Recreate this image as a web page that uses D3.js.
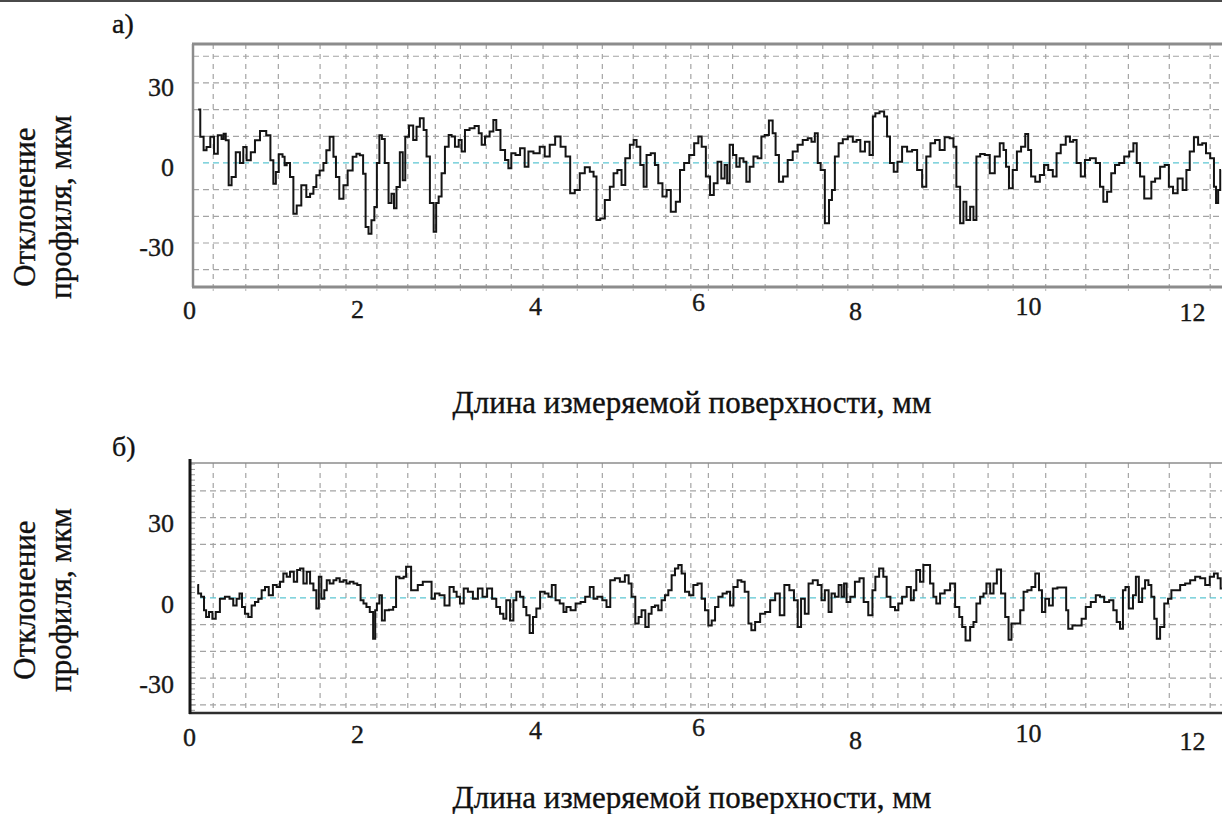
<!DOCTYPE html>
<html>
<head>
<meta charset="utf-8">
<script src="https://cdn.jsdelivr.net/npm/d3@7"></script>
<style>
  html, body { margin: 0; padding: 0; background: #fff; }
  svg { display: block; }
  svg text { font-family: "Liberation Serif", "Times New Roman", serif; stroke: #111; stroke-width: 0.35px; }
</style>
</head>
<body>
<svg id="chart" width="1222" height="814"></svg>
<script>
// axis ticks
const xTicks = [0, 2, 4, 6, 8, 10, 12];
const yTicks = [30, 0, -30];
const gridY = [-40, -30, -20, -10, 10, 20, 30, 40];
// vertical grid lines of the profilometer screen (mm), irregular as in the picture
const gridX = [0.29, 0.68, 1.07, 1.57, 1.88, 2.25, 2.62, 2.95, 3.25, 3.56, 3.86, 4.24, 4.65, 4.95,
  5.32, 5.71, 6.01, 6.22, 6.51, 6.90, 7.28, 7.59, 7.89, 8.19, 8.49, 8.79, 9.16, 9.57, 9.87,
  10.26, 10.74, 11.25, 11.74, 12.23];

// profile а) : distance, mm / deviation, µm
const distA = [0.11, 0.16, 0.19, 0.23, 0.28, 0.32, 0.37, 0.41, 0.42, 0.46, 0.49, 0.53, 0.59, 0.63, 0.67,
  0.71, 0.77, 0.81, 0.89, 0.96, 0.99, 1.03, 1.05, 1.10, 1.14, 1.15, 1.19, 1.23, 1.27, 1.31, 1.38, 1.43,
  1.47, 1.51, 1.54, 1.59, 1.63, 1.66, 1.71, 1.75, 1.77, 1.83, 1.87, 1.93, 1.99, 2.02, 2.07, 2.10, 2.13,
  2.17, 2.20, 2.24, 2.26, 2.30, 2.32, 2.37, 2.41, 2.44, 2.47, 2.50, 2.55, 2.57, 2.61, 2.66, 2.71, 2.74,
  2.79, 2.83, 2.86, 2.91, 2.95, 2.97, 3.01, 3.04, 3.09, 3.13, 3.16, 3.21, 3.25, 3.28, 3.33, 3.39, 3.45,
  3.49, 3.52, 3.57, 3.63, 3.66, 3.70, 3.76, 3.81, 3.84, 3.88, 3.94, 3.99, 4.05, 4.08, 4.17, 4.23, 4.29,
  4.35, 4.42, 4.48, 4.54, 4.59, 4.65, 4.71, 4.77, 4.83, 4.86, 4.90, 4.95, 5.01, 5.07, 5.10, 5.16, 5.20,
  5.25, 5.31, 5.34, 5.38, 5.43, 5.46, 5.50, 5.56, 5.60, 5.64, 5.70, 5.74, 5.80, 5.86, 5.90, 5.96, 6.02,
  6.08, 6.12, 6.16, 6.22, 6.26, 6.31, 6.35, 6.40, 6.43, 6.46, 6.49, 6.54, 6.57, 6.62, 6.66, 6.69, 6.74,
  6.78, 6.84, 6.87, 6.92, 6.97, 7.01, 7.04, 7.09, 7.14, 7.20, 7.26, 7.32, 7.38, 7.44, 7.47, 7.52, 7.54,
  7.59, 7.64, 7.69, 7.71, 7.76, 7.80, 7.86, 7.92, 7.98, 8.01, 8.07, 8.12, 8.18, 8.20, 8.24, 8.30, 8.35,
  8.37, 8.42, 8.46, 8.51, 8.57, 8.63, 8.69, 8.75, 8.81, 8.85, 8.91, 8.96, 9.02, 9.08, 9.14, 9.17, 9.21,
  9.26, 9.29, 9.33, 9.38, 9.41, 9.45, 9.50, 9.56, 9.62, 9.68, 9.74, 9.77, 9.80, 9.84, 9.89, 9.94, 9.99,
  10.04, 10.06, 10.11, 10.16, 10.22, 10.26, 10.32, 10.37, 10.41, 10.47, 10.53, 10.57, 10.61, 10.65,
  10.71, 10.75, 10.83, 10.89, 10.93, 10.97, 11.02, 11.07, 11.11, 11.17, 11.23, 11.29, 11.33, 11.37,
  11.41, 11.47, 11.51, 11.54, 11.60, 11.66, 11.71, 11.76, 11.81, 11.87, 11.93, 11.96, 12.01, 12.06,
  12.11, 12.16, 12.20, 12.26, 12.29, 12.31, 12.34, 12.36];
const devA = [20, 9.8, 4.8, 6, 9.8, 3.5, 10.4, 9, 11, 8.5, -8.4, -5.3, 4, 0, 6,
  1, 4, 8.5, 12, 10.4, 1, -7.8, -3.4, 3.3, 2.3, -0.9, 0, -5.3, -19, -15.9, -8.4, -12.8,
  -11.5, -9, -4.6, -2.8, 0, 4.8, 9.8, 2.3, -5.3, -13.4, -8.4, -2.8, 2.3, 3.5, 2.9, -4, -24,
  -26.5, -21.5, -16.5, 0, 10.4, 9, 0, -15, -11.5, -17, -9, 4, -6.5, 9.8, 14, 8.6, 13.6,
  16.8, 12.4, 2.4, -15, -25.8, -15, -12.6, -3.9, 6.1, 10.5, 9.9, 6.1, 8.6, 4.3, 12.4, 13, 13.9,
  11.1, 6.8, 9.9, 11.8, 16.1, 12.4, 4.9, 1.1, -2, 3.6, 3, 5.5, -1.4, 4.3, 3.6, 6.1, 2.4,
  6.8, 9.9, 6.1, 2.4, -11.4, -10.1, -3.9, -1.6, -3.3, -5.1, -21.4, -20.8, -13.9, -8.9, -3.9, -2.6, -8.3,
  1.8, 6.8, 8.6, 6.1, -0.8, -8.9, 3, 3.6, -0.8, -7.6, -12.6, -10.1, -18.3, -14.5, -2.6, 0, 3,
  7.4, 9.9, 6.1, -5.1, -12, -7.6, 0.5, -5.8, -0.8, -7.6, 6.8, 3, -1.4, 1.8, 0.5, -7, -1.4,
  2.4, 1.8, 9.9, 10.5, 15.9, 11.1, 3, -7, -5.1, 1.1, 4.3, 6.8, 8.6, 9.3, 8, 11.1, 0,
  -2.6, -22.6, -13.9, -10.1, 2.4, 7.4, 8.9, 9.9, 8, 8.6, 4.3, 8, 3, 17.4, 18.6, 19.3, 17.4,
  9.9, 0, -3.3, 0.5, 6.1, 4.3, 4.9, -2.6, -8.9, 2.4, 7.4, 8.6, 4.9, 9.6, 9.3, 6.1, -8.9,
  -22.6, -14.5, -21.4, -16.4, -21.4, 2.4, 3.4, 3, -3.9, 2.4, 7.4, 4.9, -1.4, -9.5, -2.6, 4.3, 6.1,
  10.9, 4.9, -5.1, -7, -4.5, -0.8, -2.6, -5.1, 3.6, 6.8, 9.9, 8, 8.6, 0,
  -5.1, 1.1, 1.8, 0, -8.9, -14.5, -10.8, -3.9, -0.8, 0, 2.4, 4.3, 7.4, 0,
  -5.1, -13.3, -13.3, -7, -5.8, -1.4, -0.8, -8.9, -11.4, -5.8, -10.1, -2.6, 4.3, 9.6,
  6.8, 7.4, 3.6, 1.8, -8.9, -15, -10.1, -2.6];

// profile б)
const distB = [0.10, 0.12, 0.17, 0.19, 0.22, 0.26, 0.30, 0.34, 0.40, 0.46, 0.51, 0.55, 0.59, 0.62, 0.65,
  0.69, 0.73, 0.77, 0.81, 0.85, 0.89, 0.93, 0.98, 1.03, 1.07, 1.11, 1.15, 1.19, 1.23, 1.28, 1.31, 1.35,
  1.39, 1.43, 1.47, 1.51, 1.54, 1.57, 1.60, 1.64, 1.66, 1.71, 1.75, 1.78, 1.83, 1.87, 1.90, 1.95, 1.99,
  2.04, 2.07, 2.11, 2.14, 2.19, 2.22, 2.24, 2.26, 2.30, 2.32, 2.37, 2.42, 2.47, 2.49, 2.55, 2.59, 2.61,
  2.71, 2.77, 2.83, 2.89, 2.92, 2.97, 3.03, 3.09, 3.15, 3.19, 3.22, 3.27, 3.31, 3.37, 3.43, 3.49, 3.54,
  3.60, 3.66, 3.70, 3.75, 3.78, 3.82, 3.87, 3.90, 3.94, 3.99, 4.02, 4.06, 4.10, 4.14, 4.18, 4.23, 4.29,
  4.32, 4.37, 4.41, 4.47, 4.50, 4.54, 4.60, 4.66, 4.72, 4.77, 4.83, 4.86, 4.92, 4.98, 5.02, 5.07, 5.13,
  5.19, 5.25, 5.28, 5.32, 5.37, 5.40, 5.44, 5.49, 5.52, 5.56, 5.60, 5.64, 5.68, 5.72, 5.76, 5.80, 5.84,
  5.88, 5.92, 5.96, 6.02, 6.06, 6.12, 6.16, 6.20, 6.24, 6.28, 6.32, 6.36, 6.42, 6.46, 6.50, 6.54, 6.60,
  6.63, 6.68, 6.72, 6.75, 6.81, 6.87, 6.93, 6.99, 7.05, 7.10, 7.16, 7.22, 7.27, 7.31, 7.35, 7.40, 7.44,
  7.50, 7.56, 7.59, 7.64, 7.68, 7.71, 7.76, 7.80, 7.83, 7.86, 7.89, 7.95, 8.00, 8.06, 8.10, 8.17, 8.20,
  8.24, 8.29, 8.34, 8.37, 8.43, 8.48, 8.51, 8.57, 8.62, 8.67, 8.69, 8.73, 8.78, 8.81, 8.85, 8.90, 8.93,
  8.97, 9.02, 9.08, 9.15, 9.20, 9.25, 9.27, 9.33, 9.38, 9.41, 9.45, 9.50, 9.53, 9.57, 9.62, 9.65, 9.70,
  9.75, 9.80, 9.83, 9.87, 9.93, 9.98, 10.01, 10.07, 10.11, 10.16, 10.20, 10.23, 10.28, 10.32, 10.37,
  10.43, 10.50, 10.51, 10.55, 10.61, 10.67, 10.71, 10.77, 10.83, 10.89, 10.93, 10.99, 11.05, 11.09,
  11.13, 11.17, 11.20, 11.23, 11.28, 11.33, 11.35, 11.40, 11.43, 11.47, 11.51, 11.54, 11.58, 11.60,
  11.66, 11.70, 11.75, 11.78, 11.84, 11.90, 11.96, 12.02, 12.08, 12.14, 12.20, 12.25, 12.30, 12.34, 12.37];
const devB = [4.8, 1.6, 0.4, -4.6, -7.1, -5.3, -7.8, -5.3, -0.3, 0.4, -0.3, -2.8, -0.3, 1.6, -3.4,
  -5.9, -7.1, -2.8, -1.5, -0.3, 2.9, 4.1, 1, 4.8, 4.1, 6, 9.1, 7.9, 9.8, 6, 10.4, 11,
  5.4, 9.8, 5.4, 2.9, -4, 7.9, -0.3, 2.9, 6.6, 5.4, 6.6, 7.3, 6, 6.6, 5.4, 6, 5.4,
  4.8, -0.9, -2.1, -3.4, -5.3, -15.3, -4.6, -2.1, 1, -8.4, -4.6, -4.4, -3.4, 7.9, 7.3, 7.9, 11.6,
  2.9, 4.8, 6, 6, -0.3, 1.6, 1, -2.8, 4.1, 2.3, 0.4, -2.1, 3.5, 2.3, -0.3, 3.5, 0.4,
  3.5, -0.3, -3.4, -5.9, -7.8, -0.9, -8.4, -0.9, 2.3, 0.4, -3.4, -6.5, -13.1, -7.1, -4, 2.3, 1.6,
  0.4, 4.8, -0.9, -2.1, -5.3, -3.4, -4.6, -2.1, -1.5, 0.4, 4.1, -0.3, 0.4, -0.9, -3.4, 6.6, 7.3,
  6, 8.5, 5.4, 0.4, -9.6, -7.1, -4.6, -10.9, -5.9, -3.4, -2.8, -4.6, -0.9, 1, 2.9, 8.5, 11,
  12.3, 9.1, 2.3, 1, 4.8, 5.4, -0.3, -4.6, -10.3, -8.4, -3.4, 0.4, 1.6, 2.3, -2.8, 4.1, 6.6,
  6, 2.3, -9.6, -12.1, -9, -5.9, -5.3, -0.9, 1.6, -6.5, 4.8, 2.9, -0.9, -10.9, -0.3, -5.9, 5.4,
  6.6, 4.8, -0.9, 2.9, -5.3, 1.6, 0.4, 4.8, 0.4, 5.4, -1.5, 0.4, 6, 7.3, -1.5, -6.5, 2.9,
  7.9, 11, 7.9, 0.4, -3.4, -4.6, -2.1, 0.4, 4.1, -0.9, 2.9, 10.4, 6, 12.3, 12.3, 5.4, 0.4,
  -2.1, 1.6, 2.9, 5.4, -3.4, -7.1, -10.9, -15.9, -10.9, -9, -2.1, 0.4, 1.6, 5.4, 1.6, 5.4, 10.6,
  1.6, -7.1, -15.6, -9.6, -9.6, -4.6, 2.3, 2.9, 4.1, 9.1, 2.9, -5.3, -0.3, -2.8, 3.5,
  3.9, 3.9, -4.6, -11.5, -10.3, -10.3, -7.8, -3.4, -1.5, 1, 0.4, -1.5, -0.9, -4.6,
  -9, -11.5, 2.9, 4.1, -4, 1, 7.9, -1.5, 3.5, 6.6, 4.8, 0.4, -7.8, -15.3,
  -10.9, -2.1, -0.3, 2.9, 2.9, 4.8, 5.4, 6.6, 7.9, 7.3, 4.8, 7.9, 9.1, 7.3, 3.5];

// ---------- layout ----------
const X_RIGHT = 1226;
const tickNudgeX = [0, 1, 12, 8, -2, 4, 1];

const panels = [
  { id: "a", label: "а)", labelY: 33, top: 44, bottom: 287, left: 193, yDomain: [-46.5, 44.6],
    tickBase: [319, 318, 315, 311, 320, 315, 321], yLabelDy: 3, titleY: 413, yTitleCenter: 207,
    dist: distA, dev: devA },
  { id: "b", label: "б)", labelY: 456, top: 463, bottom: 713, left: 190, yDomain: [-43, 50.4],
    tickBase: [746, 743, 739, 736, 749, 742, 750], yLabelDy: 5, titleY: 808, yTitleCenter: 600,
    dist: distB, dev: devB }
];

const svg = d3.select("#chart");

// thin rule at the very top of the picture
svg.append("rect").attr("x", 0).attr("y", 0).attr("width", 1222).attr("height", 2).attr("fill", "#4a4a4a");

const x = d3.scaleLinear().domain([0, 12]).range([189, 1191]);

function drawPanel(p) {
  const y = d3.scaleLinear().domain(p.yDomain).range([p.bottom, p.top]);
  const g = svg.append("g");

  // horizontal grid
  g.append("g").selectAll("line").data(gridY).join("line")
    .attr("x1", p.left).attr("x2", X_RIGHT)
    .attr("y1", d => y(d)).attr("y2", d => y(d))
    .attr("stroke", "#a4a4a4").attr("stroke-width", 1.2)
    .attr("stroke-dasharray", "6,4");

  // vertical grid
  g.append("g").selectAll("line").data(gridX).join("line")
    .attr("x1", d => x(d)).attr("x2", d => x(d))
    .attr("y1", p.top).attr("y2", p.bottom)
    .attr("stroke", "#a4a4a4").attr("stroke-width", 1.2)
    .attr("stroke-dasharray", "5,5");

  // zero line
  g.append("line")
    .attr("x1", p.left + 10).attr("x2", X_RIGHT)
    .attr("y1", y(0)).attr("y2", y(0))
    .attr("stroke", "#5cc6d2").attr("stroke-width", 1.3)
    .attr("stroke-dasharray", "6,4");

  // profile
  svg.append("clipPath").attr("id", "clip-" + p.id)
    .append("rect")
    .attr("x", p.left).attr("y", p.top)
    .attr("width", X_RIGHT - p.left).attr("height", p.bottom - p.top);

  const line = d3.line()
    .x(d => x(d[0]))
    .y(d => y(d[1]))
    .curve(d3.curveStep);

  g.append("path")
    .datum(d3.zip(p.dist, p.dev))
    .attr("clip-path", "url(#clip-" + p.id + ")")
    .attr("d", line)
    .attr("fill", "none")
    .attr("stroke", "#141414")
    .attr("stroke-width", 2)
    .attr("stroke-linejoin", "miter");

  // frame
  if (p.id === "a") {
    g.append("line").attr("x1", p.left).attr("x2", p.left).attr("y1", p.top).attr("y2", p.bottom)
      .attr("stroke", "#8c8c8c").attr("stroke-width", 2.5);
    g.append("line").attr("x1", p.left - 1).attr("x2", X_RIGHT).attr("y1", p.top).attr("y2", p.top)
      .attr("stroke", "#8c8c8c").attr("stroke-width", 3);
    g.append("line").attr("x1", p.left - 1).attr("x2", X_RIGHT).attr("y1", p.bottom).attr("y2", p.bottom)
      .attr("stroke", "#8c8c8c").attr("stroke-width", 3);
    // small ticks under the frame
    g.append("g").selectAll("line").data(gridX).join("line")
      .attr("x1", d => x(d)).attr("x2", d => x(d))
      .attr("y1", p.bottom + 1.5).attr("y2", p.bottom + 4)
      .attr("stroke", "#b0b0b0").attr("stroke-width", 1);
  } else {
    g.append("line").attr("x1", p.left).attr("x2", X_RIGHT).attr("y1", p.top).attr("y2", p.top)
      .attr("stroke", "#8c8c8c").attr("stroke-width", 1.5);
    g.append("line").attr("x1", p.left - 1).attr("x2", X_RIGHT).attr("y1", p.bottom).attr("y2", p.bottom)
      .attr("stroke", "#2e2e2e").attr("stroke-width", 2.5);
    // minor ticks inside the left border
    g.append("g").selectAll("line").data(d3.range(-42, 51, 2)).join("line")
      .attr("x1", p.left + 1).attr("x2", p.left + 5)
      .attr("y1", d => y(d)).attr("y2", d => y(d))
      .attr("stroke", "#9a9a9a").attr("stroke-width", 1);
    g.append("line").attr("x1", p.left).attr("x2", p.left).attr("y1", p.top - 4).attr("y2", p.bottom + 1)
      .attr("stroke", "#161616").attr("stroke-width", 3);
  }

  // x tick labels
  const xAxis = g.append("g")
    .call(d3.axisBottom(x).tickValues(xTicks).tickSize(0).tickFormat(d => String(d)));
  xAxis.select(".domain").remove();
  xAxis.selectAll(".tick text")
    .attr("dy", null)
    .attr("x", (d, i) => tickNudgeX[i])
    .attr("y", (d, i) => p.tickBase[i])
    .style("font-size", "26px")
    .attr("fill", "#1a1a1a");

  // y tick labels
  const yAxis = g.append("g")
    .attr("transform", "translate(174,0)")
    .call(d3.axisLeft(y).tickValues(yTicks).tickSize(0).tickPadding(0).tickFormat(d => String(d)));
  yAxis.select(".domain").remove();
  yAxis.selectAll(".tick text")
    .attr("dy", "0.35em")
    .attr("y", p.yLabelDy)
    .style("font-size", "26px")
    .attr("fill", "#1a1a1a");

  // panel letter
  svg.append("text")
    .attr("x", 112).attr("y", p.labelY)
    .style("font-size", "28px").attr("fill", "#111")
    .text(p.label);

  // axis titles
  svg.append("text")
    .attr("x", 692).attr("y", p.titleY)
    .attr("text-anchor", "middle")
    .style("font-size", "31px").attr("fill", "#111")
    .text("Длина измеряемой поверхности, мм");

  const yt = svg.append("text")
    .attr("transform", `translate(0,${p.yTitleCenter}) rotate(-90)`)
    .attr("text-anchor", "middle")
    .style("font-size", "31px").attr("fill", "#111");
  yt.append("tspan").attr("x", 0).attr("y", 35).text("Отклонение");
  yt.append("tspan").attr("x", 0).attr("y", 71).text("профиля, мкм");
}

panels.forEach(drawPanel);
</script>
</body>
</html>
